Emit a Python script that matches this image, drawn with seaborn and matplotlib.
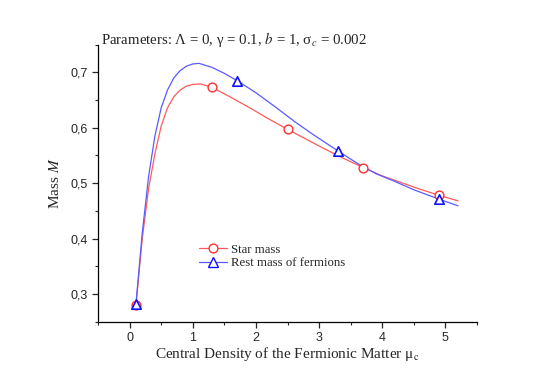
import matplotlib
matplotlib.use("Agg")
import matplotlib.pyplot as plt
from matplotlib.lines import Line2D
from matplotlib.ticker import MultipleLocator, FuncFormatter
import seaborn as sns

# curves
star_x = [0.1, 0.2, 0.3, 0.4, 0.5, 0.6, 0.7, 0.8, 0.9, 1.0, 1.12, 1.3, 1.6, 1.9,
          2.2, 2.5, 2.8, 3.1, 3.4, 3.7, 4.0, 4.3, 4.6, 4.9, 5.2]
star_m = [0.28, 0.40, 0.49, 0.553, 0.603, 0.636, 0.656, 0.668, 0.675, 0.678, 0.679, 0.673, 0.655, 0.636,
          0.616, 0.597, 0.579, 0.561, 0.544, 0.528, 0.513, 0.501, 0.489, 0.478, 0.468]
rest_x = [0.1, 0.2, 0.3, 0.4, 0.5, 0.6, 0.7, 0.8, 0.9, 1.0, 1.1, 1.3, 1.5, 1.7,
          2.0, 2.3, 2.6, 2.9, 3.3, 3.6, 3.9, 4.2, 4.5, 4.9, 5.2]
rest_m = [0.282, 0.41, 0.512, 0.585, 0.636, 0.668, 0.69, 0.703, 0.711, 0.715, 0.716, 0.709, 0.698, 0.685,
          0.663, 0.638, 0.612, 0.588, 0.558, 0.536, 0.517, 0.503, 0.488, 0.471, 0.459]

# marker positions
star_mx = [0.1, 1.3, 2.5, 3.7, 4.9]
star_my = [0.28, 0.673, 0.598, 0.528, 0.479]
rest_mx = [0.1, 1.7, 3.3, 4.9]
rest_my = [0.282, 0.685, 0.558, 0.472]

sns.set_style("ticks")
plt.rcParams['font.family'] = ['Liberation Serif', 'DejaVu Serif']
plt.rcParams['mathtext.fontset'] = 'stix'

red = '#ff5a5a'
blue = '#5a5aff'

fig = plt.figure(figsize=(5.54, 3.86), dpi=100)
ax = fig.add_axes([0.177, 0.1666, 0.684, 0.718])

sns.lineplot(x=star_x, y=star_m, color=red, lw=0.9, ax=ax, sort=False)
sns.lineplot(x=rest_x, y=rest_m, color=blue, lw=0.9, ax=ax, sort=False)
sns.scatterplot(x=star_mx, y=star_my, marker='o', s=40, facecolor='white',
                edgecolor='#ff3030', linewidth=1.0, ax=ax, zorder=3)
sns.scatterplot(x=rest_mx, y=rest_my, marker='^', s=46, facecolor='white',
                edgecolor='#1010ff', linewidth=1.2, ax=ax, zorder=4)

ax.set_xlim(-0.5, 5.5)
ax.set_ylim(0.25, 0.75)
ax.xaxis.set_major_locator(MultipleLocator(1))
ax.xaxis.set_minor_locator(MultipleLocator(0.5))
ax.yaxis.set_major_locator(MultipleLocator(0.1))
ax.yaxis.set_minor_locator(MultipleLocator(0.05))
ax.yaxis.set_major_formatter(FuncFormatter(lambda v, p: f"{v:.1f}".replace('.', ',')))
ax.set_yticks([0.3, 0.4, 0.5, 0.6, 0.7])
ax.tick_params(which='major', length=4, width=0.9, labelsize=9, direction='out')
ax.tick_params(which='minor', length=2.5, width=0.8, direction='out')
for lab in ax.get_xticklabels() + ax.get_yticklabels():
    lab.set_family('Liberation Sans')

sns.despine(ax=ax)
for s in ['left', 'bottom']:
    ax.spines[s].set_linewidth(0.9)
    ax.spines[s].set_color('black')

ax.set_xlabel("Central Density of the Fermionic Matter μ$_\\mathrm{c}$", fontsize=11, labelpad=1)
ax.set_ylabel("Mass $M$", fontsize=11, labelpad=6)

fig.text(0.183, 0.885, "Parameters: Λ = 0, γ = 0.1, $b$ = 1, σ$_c$ = 0.002",
         fontsize=10.7)

handles = [
    Line2D([], [], color=red, lw=0.9, marker='o', markersize=6.3, markerfacecolor='white',
           markeredgecolor='#ff3030'),
    Line2D([], [], color=blue, lw=0.9, marker='^', markersize=6.8, markerfacecolor='white',
           markeredgecolor='#1010ff'),
]
ax.legend(handles, ["Star mass", "Rest mass of fermions"], loc='center left',
          bbox_to_anchor=(0.235, 0.235), frameon=False, fontsize=9.2,
          handlelength=2.2, handletextpad=0.3, labelspacing=0.1)

fig.savefig("out.png", dpi=100)
